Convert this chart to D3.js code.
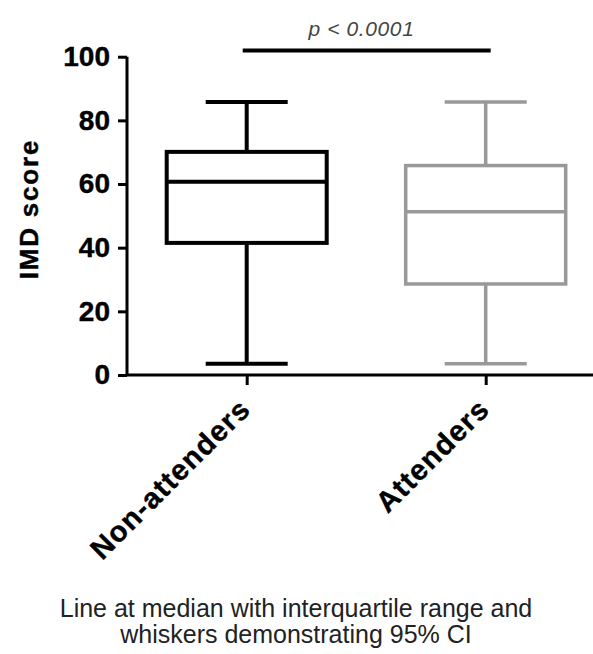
<!DOCTYPE html>
<html><head><meta charset="utf-8">
<script src="https://cdn.jsdelivr.net/npm/d3@7"></script>
<style>body{margin:0;background:#fff}svg{display:block}text{font-family:"Liberation Sans",Arial,sans-serif}</style>
</head><body><svg id="c" width="593" height="654"></svg>
<script>
const categories = ["Non-attenders", "Attenders"];
const whiskerLow = [3.5, 3.5];
const q1 = [41.5, 28.6];
const median = [60.7, 51.3];
const q3 = [70.1, 65.8];
const whiskerHigh = [85.8, 85.8];
const colors = ["#000000", "#999999"];
const yTicks = [0, 20, 40, 60, 80, 100];
const pText = "p < 0.0001";
const caption = ["Line at median with interquartile range and", "whiskers demonstrating 95% CI"];

const svg = d3.select("#c");
const mLeft = 127, mRight = 593, mTop = 56.7, mBottom = 375;
const y = d3.scaleLinear().domain([0, 100]).range([mBottom, mTop]);
const x = d3.scalePoint().domain(categories).range([246.7, 485.7]);
const boxW = 160, capW = 82;

// y axis
const ya = svg.append("g").attr("transform", `translate(${mLeft},0)`)
  .call(d3.axisLeft(y).tickValues(yTicks).tickSize(9).tickPadding(8));
ya.select(".domain").attr("stroke", "#000").attr("stroke-width", 3).attr("d", `M0,${mTop}V${mBottom}`);
ya.selectAll(".tick line").attr("stroke", "#000").attr("stroke-width", 3);
ya.selectAll(".tick text").attr("font-size", 28).attr("font-weight", "bold").attr("fill", "#000")
  .attr("stroke", "#000").attr("stroke-width", 0.4);

// x axis
const xa = svg.append("g").attr("transform", `translate(0,${mBottom})`)
  .call(d3.axisBottom(x).tickSize(10).tickPadding(6));
xa.select(".domain").attr("stroke", "#000").attr("stroke-width", 3).attr("d", `M${mLeft},0H${mRight}`);
xa.selectAll(".tick line").attr("stroke", "#000").attr("stroke-width", 3);
xa.selectAll(".tick text").attr("font-size", 29).attr("font-weight", "bold").attr("fill", "#000")
  .attr("stroke", "#000").attr("stroke-width", 0.4)
  .attr("letter-spacing", 1.2)
  .attr("text-anchor", "end").attr("dy", 0)
  .attr("transform", "translate(5,36) rotate(-45)").attr("x", 0).attr("y", 0);

// boxes
const g = svg.append("g");
categories.forEach((c, i) => {
  const cx = x(c), col = colors[i], sw = i === 0 ? 4 : 3.5;
  const gg = g.append("g").attr("stroke", col).attr("stroke-width", sw).attr("fill", "none");
  gg.append("line").attr("x1", cx).attr("x2", cx).attr("y1", y(whiskerHigh[i])).attr("y2", y(q3[i]));
  gg.append("line").attr("x1", cx).attr("x2", cx).attr("y1", y(q1[i])).attr("y2", y(whiskerLow[i]));
  gg.append("line").attr("x1", cx - capW / 2).attr("x2", cx + capW / 2).attr("y1", y(whiskerHigh[i])).attr("y2", y(whiskerHigh[i]));
  gg.append("line").attr("x1", cx - capW / 2).attr("x2", cx + capW / 2).attr("y1", y(whiskerLow[i])).attr("y2", y(whiskerLow[i]));
  gg.append("rect").attr("x", cx - boxW / 2).attr("width", boxW).attr("y", y(q3[i])).attr("height", y(q1[i]) - y(q3[i]));
  gg.append("line").attr("x1", cx - boxW / 2).attr("x2", cx + boxW / 2).attr("y1", y(median[i])).attr("y2", y(median[i]));
});

// significance bar
const sy = 50.5;
svg.append("line").attr("x1", x(categories[0]) - 4).attr("x2", x(categories[1]) + 5)
  .attr("y1", sy).attr("y2", sy).attr("stroke", "#000").attr("stroke-width", 4);
svg.append("text").attr("x", 361.5).attr("y", 36)
  .attr("text-anchor", "middle").attr("font-size", 21).attr("letter-spacing", 0.6)
  .attr("font-style", "italic").attr("fill", "#444").text(pText);

// y label
svg.append("text").attr("transform", `translate(38,209) rotate(-90)`)
  .attr("text-anchor", "middle").attr("font-size", 26).attr("letter-spacing", 1.8)
  .attr("font-weight", "bold").attr("fill", "#000").attr("stroke", "#000").attr("stroke-width", 0.4)
  .text("IMD score");

// caption
caption.forEach((t, i) => svg.append("text").attr("x", 296).attr("y", 617 + i * 26)
  .attr("text-anchor", "middle").attr("font-size", 25).attr("fill", "#222").text(t));
</script></body></html>
